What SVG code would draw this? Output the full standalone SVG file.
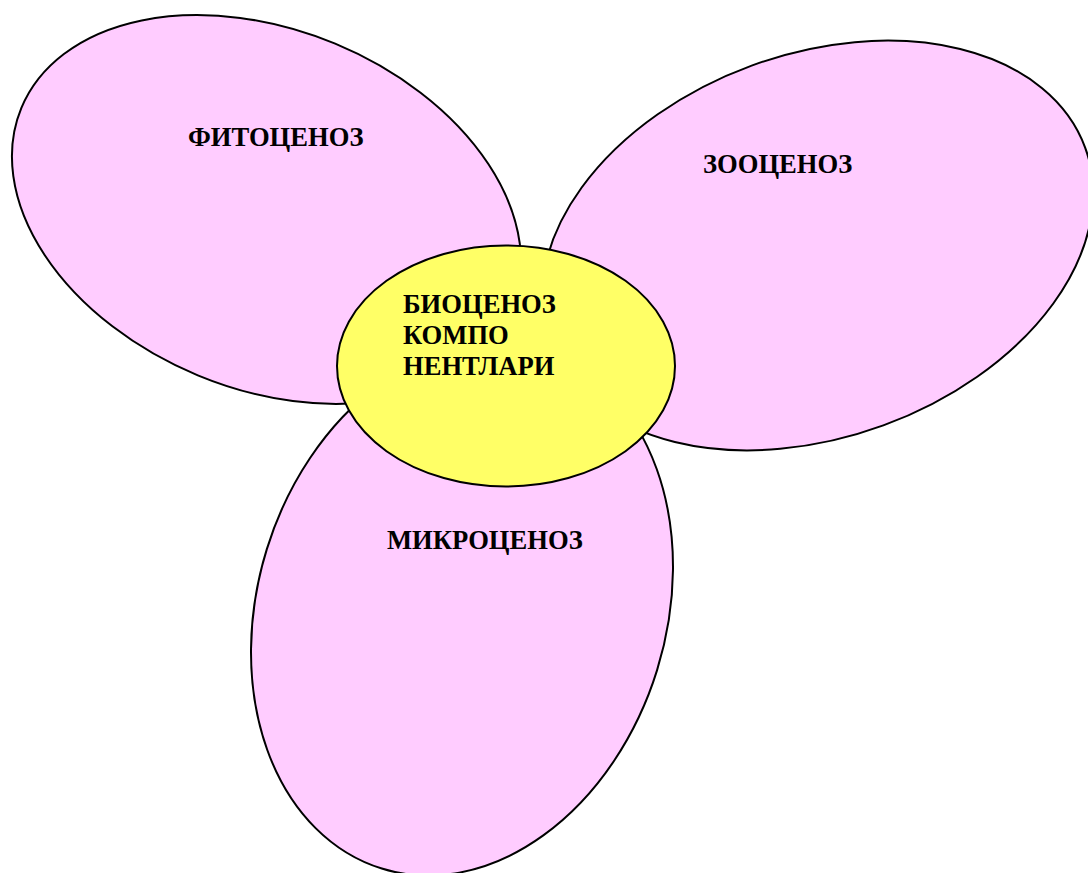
<svg xmlns="http://www.w3.org/2000/svg" width="1088" height="873" viewBox="0 0 1088 873">
  <style>
    .petal { fill: #FFCCFF; stroke: #000000; stroke-width: 2; }
    .core { fill: #FFFF66; stroke: #000000; stroke-width: 2; }
    .label { font-family: "Liberation Serif", "Times New Roman", serif; font-weight: bold; font-size: 26.6px; fill: #000000; }
  </style>
  <rect width="1088" height="873" fill="#FFFFFF"/>

  <!-- petals -->
  <g id="node-fitocenoz">
    <ellipse class="petal" cx="266.5" cy="209.5" rx="265.3" ry="179.5" transform="rotate(22.5 266.5 209.5)"/>
    <text class="label" x="188" y="146">ФИТОЦЕНОЗ</text>
  </g>

  <g id="node-zoocenoz">
    <ellipse class="petal" cx="817.5" cy="245.5" rx="285" ry="191.6" transform="rotate(-20.1 817.5 245.5)"/>
    <text class="label" x="703" y="173">ЗООЦЕНОЗ</text>
  </g>

  <g id="node-mikrocenoz">
    <ellipse class="petal" cx="462" cy="609.5" rx="204.3" ry="271.2" transform="rotate(17.2 462 609.5)"/>
    <text class="label" x="387" y="549">МИКРОЦЕНОЗ</text>
  </g>

  <!-- centre -->
  <g id="node-biocenoz">
    <ellipse class="core" cx="506" cy="366" rx="169" ry="120.5"/>
    <text class="label" x="403" y="313">БИОЦЕНОЗ</text>
    <text class="label" x="403" y="344">КОМПО</text>
    <text class="label" x="403" y="375">НЕНТЛАРИ</text>
  </g>

  <g id="connectors"></g>
</svg>
